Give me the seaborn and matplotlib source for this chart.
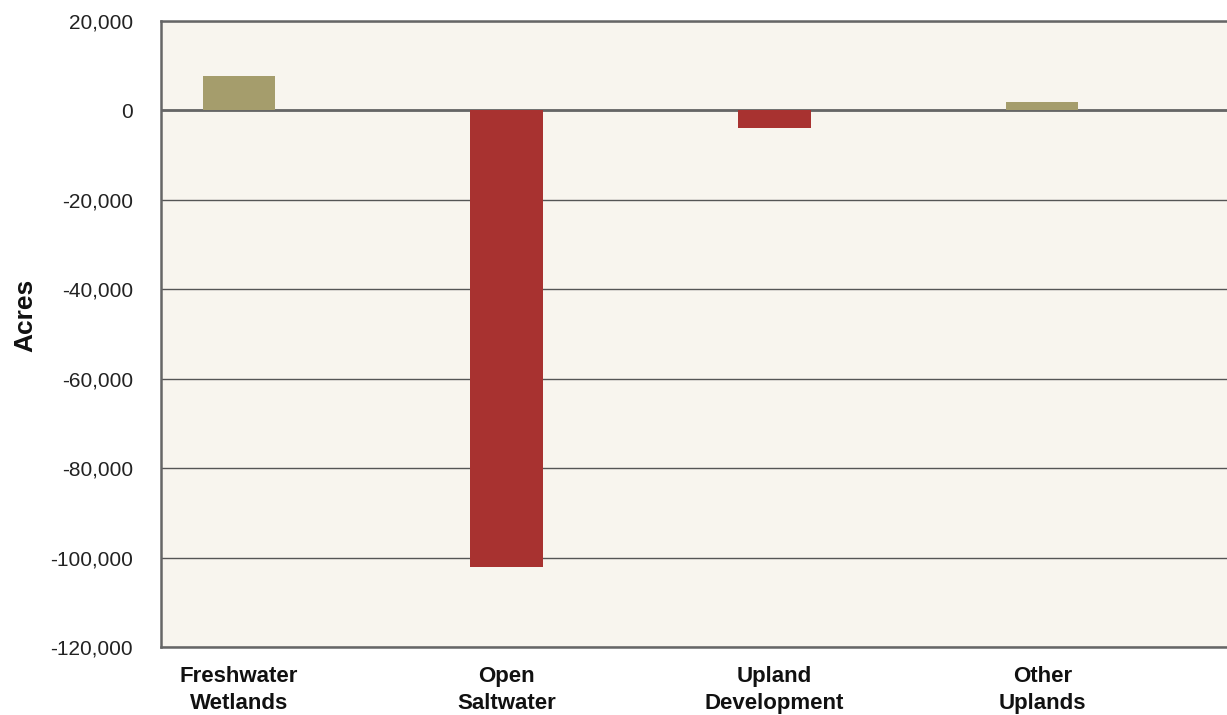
import numpy as np
import pandas as pd
import matplotlib
matplotlib.use("Agg")
import matplotlib.pyplot as plt
import matplotlib.ticker as mticker
import seaborn as sns

CATEGORIES = ["Freshwater\nWetlands", "Open\nSaltwater", "Upland\nDevelopment", "Other\nUplands"]
ACRES = [7600, -102000, -4000, 1800]
Y_TICKS = [20000, 0, -20000, -40000, -60000, -80000, -100000, -120000]

GAIN_COLOR = "#a59d6c"
LOSS_COLOR = "#a83230"
BG_COLOR = "#f8f5ee"

sns.set_theme(style="white")
plt.rcParams["font.family"] = ["Liberation Sans Narrow", "Liberation Sans", "DejaVu Sans"]

df = pd.DataFrame({"category": CATEGORIES, "acres": ACRES})
palette = [GAIN_COLOR if v >= 0 else LOSS_COLOR for v in ACRES]

fig = plt.figure(figsize=(12.27, 7.15), dpi=100)
ax = fig.add_axes([161 / 1227, 1 - 647 / 715, 1 - 161 / 1227, (647 - 21) / 715])
ax.set_facecolor(BG_COLOR)

sns.barplot(data=df, x="category", y="acres", hue="category", palette=palette,
            width=0.27, legend=False, saturation=1, linewidth=0, ax=ax, zorder=3)

ax.set_xlim(-0.29, 3.69)
ax.set_ylim(min(Y_TICKS), max(Y_TICKS))
ax.set_yticks(Y_TICKS)
ax.yaxis.set_major_formatter(mticker.FuncFormatter(lambda v, p: f"{int(v):,}"))
ax.grid(axis="y", color="#555555", linewidth=1.0, zorder=1)
ax.axhline(0, color="#666666", linewidth=2.0, zorder=2)

ax.set_xlabel("")
ax.set_ylabel("Acres", fontsize=19, fontweight="bold", color="#111111")
ax.yaxis.set_label_coords(-0.116, 0.53)
ax.tick_params(axis="y", length=0, labelsize=15, pad=20, colors="#222222")
ax.tick_params(axis="x", length=0, pad=14)
for lbl in ax.get_xticklabels():
    lbl.set_fontsize(16)
    lbl.set_fontweight("bold")
    lbl.set_color("#111111")
    lbl.set_linespacing(1.35)

for side in ["left", "top", "bottom"]:
    ax.spines[side].set_visible(True)
    ax.spines[side].set_color("#666666")
    ax.spines[side].set_linewidth(1.8)
ax.spines["right"].set_visible(False)

fig.savefig("out.png", dpi=100, facecolor="white")
